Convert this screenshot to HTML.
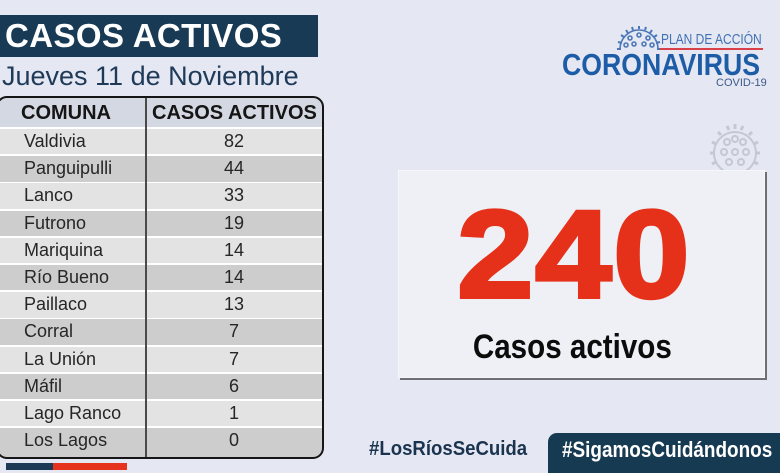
<!DOCTYPE html>
<html><head><meta charset="utf-8">
<style>
*{margin:0;padding:0;box-sizing:border-box}
html,body{width:780px;height:470px;overflow:hidden;background:#e5e7f2;font-family:"Liberation Sans",sans-serif}
.abs{position:absolute}
#title{left:0;top:15px;width:318px;height:42px;background:#183a54}
#title span{position:absolute;left:5px;top:2px;color:#fff;font-weight:bold;font-size:33px;letter-spacing:0.4px;line-height:38px;white-space:nowrap}
#sub{left:2px;top:60px;color:#1e3a58;font-size:27px;line-height:32px;white-space:nowrap}
#tbl{left:-2px;top:97px;width:325px;height:361px;overflow:hidden;border-radius:10px;background:#fff}
.row{position:absolute;left:0;width:325px;height:25.4px}
.row .c1{position:absolute;left:26px;top:0;line-height:25.4px;font-size:18px;color:#262626;white-space:nowrap}
.row .c2{position:absolute;left:147px;width:178px;text-align:center;top:0;line-height:25.4px;font-size:18px;color:#262626}
.odd{background:#e3e3e4}
.even{background:#cdcdce}
#hdr{position:absolute;left:0;top:0;width:325px;height:30px;background:#d4d8e2}
#hdr span{position:absolute;top:0;line-height:32px;font-weight:bold;font-size:20px;color:#151515;white-space:nowrap}
#div{left:145px;top:97px;width:2px;height:361px;background:#4a4a4a}
#tb{left:-4px;top:96px;width:328px;height:363px;border:2.5px solid #161616;border-radius:11px}
#box{left:398px;top:170px;width:367px;height:208px;background:#eef0f6;border:1px solid #f6f7fb;box-shadow:2px 2px 0 #6e6e74}
#big{left:391px;top:190px;width:367px;text-align:center;color:#e6311a;font-weight:bold;font-size:124px;line-height:130px;-webkit-text-stroke:4px #e6311a;letter-spacing:2px}
#big span{display:inline-block;transform:scaleX(1.1)}
#ca{left:389px;top:327px;width:367px;text-align:center;color:#0c0c0c;font-weight:bold;font-size:34px;line-height:40px}
#ca span{display:inline-block;transform:scaleX(0.87)}
#h1{left:369px;top:436px;color:#1a3450;font-weight:bold;font-size:20px;line-height:26px;white-space:nowrap}
#h1 span{display:inline-block;transform:scaleX(0.93);transform-origin:left}
#h2 span{display:inline-block;transform:scaleX(0.86);transform-origin:left}
#tab{left:548px;top:433px;width:240px;height:40px;background:#173a53;border-radius:9px 0 0 0}
#h2{left:562px;top:437px;color:#fff;font-weight:bold;font-size:22px;line-height:26px;white-space:nowrap}
</style></head><body>
<div id="title" class="abs"><span>CASOS ACTIVOS</span></div>
<div id="sub" class="abs">Jueves 11 de Noviembre</div>

<div id="tbl" class="abs">
  <div id="hdr"><span style="left:23px">COMUNA</span><span style="left:154px">CASOS ACTIVOS</span></div>
  <div class="row odd" style="top:32px"><span class="c1">Valdivia</span><span class="c2">82</span></div>
  <div class="row even" style="top:59.2px"><span class="c1">Panguipulli</span><span class="c2">44</span></div>
  <div class="row odd" style="top:86.4px"><span class="c1">Lanco</span><span class="c2">33</span></div>
  <div class="row even" style="top:113.6px"><span class="c1">Futrono</span><span class="c2">19</span></div>
  <div class="row odd" style="top:140.8px"><span class="c1">Mariquina</span><span class="c2">14</span></div>
  <div class="row even" style="top:168px"><span class="c1">Río Bueno</span><span class="c2">14</span></div>
  <div class="row odd" style="top:195.2px"><span class="c1">Paillaco</span><span class="c2">13</span></div>
  <div class="row even" style="top:222.4px"><span class="c1">Corral</span><span class="c2">7</span></div>
  <div class="row odd" style="top:249.6px"><span class="c1">La Unión</span><span class="c2">7</span></div>
  <div class="row even" style="top:276.8px"><span class="c1">Máfil</span><span class="c2">6</span></div>
  <div class="row odd" style="top:304px"><span class="c1">Lago Ranco</span><span class="c2">1</span></div>
  <div class="row even" style="top:331.2px;height:30px"><span class="c1">Los Lagos</span><span class="c2">0</span></div>
</div>
<div id="div" class="abs"></div>
<div id="tb" class="abs"></div>

<div class="abs" style="left:6px;top:463px;width:47px;height:7px;background:#1c3a56"></div>
<div class="abs" style="left:53px;top:463px;width:74px;height:7px;background:#e5331d"></div>

<!-- Logo -->
<svg class="abs" style="left:616px;top:25px" width="46" height="26" viewBox="0 0 46 26">
  <g fill="none" stroke="#4a78b8" stroke-width="1.6">
    <path d="M4 24 A19 19 0 0 1 42 24"/>
    <circle cx="14" cy="13" r="2"/><circle cx="23" cy="10" r="2"/><circle cx="32" cy="13" r="2"/>
    <circle cx="10" cy="20" r="2"/><circle cx="18" cy="19" r="2"/><circle cx="28" cy="19" r="2"/><circle cx="36" cy="20" r="2"/>
  </g>
  <g stroke="#4a78b8" stroke-width="2">
    <line x1="1" y1="24" x2="5" y2="24"/><line x1="2" y1="17" x2="6" y2="18"/><line x1="5" y1="10" x2="8" y2="12"/>
    <line x1="10" y1="5" x2="12" y2="8"/><line x1="16" y1="2" x2="17" y2="5"/><line x1="23" y1="1" x2="23" y2="4"/>
    <line x1="30" y1="2" x2="29" y2="5"/><line x1="36" y1="5" x2="34" y2="8"/><line x1="41" y1="10" x2="38" y2="12"/>
    <line x1="44" y1="17" x2="40" y2="18"/><line x1="45" y1="24" x2="41" y2="24"/>
  </g>
</svg>
<div class="abs" style="left:661px;top:32px;color:#3f72b5;font-size:15px;line-height:16px;white-space:nowrap"><span style="display:inline-block;transform:scaleX(0.8);transform-origin:left">PLAN DE ACCIÓN</span></div>
<div class="abs" style="left:660px;top:48px;width:103px;height:2px;background:#d9414a"></div>
<div class="abs" style="left:562px;top:50px;color:#1d5ca6;font-weight:bold;font-size:31px;line-height:30px;white-space:nowrap"><span style="display:inline-block;transform:scaleX(0.86);transform-origin:left">CORONAVIRUS</span></div>
<div class="abs" style="left:716px;top:77px;color:#3a5c8a;font-size:11px;line-height:12px;white-space:nowrap">COVID-19</div>

<!-- faint virus -->
<svg class="abs" style="left:704px;top:120px" width="62" height="54" viewBox="0 0 62 54">
  <g fill="none" stroke="#c4c8d2" stroke-width="2">
    <circle cx="31" cy="33" r="21"/>
    <circle cx="23" cy="22" r="3"/><circle cx="31" cy="19" r="3"/><circle cx="39" cy="22" r="3"/>
    <circle cx="20" cy="32" r="3"/><circle cx="31" cy="32" r="3"/><circle cx="42" cy="32" r="3"/>
    <circle cx="25" cy="42" r="3"/><circle cx="37" cy="42" r="3"/>
  </g>
  <g stroke="#c4c8d2" stroke-width="3">
    <line x1="6" y1="33" x2="10" y2="33"/><line x1="8" y1="22" x2="12" y2="24"/><line x1="14" y1="12" x2="17" y2="15"/>
    <line x1="23" y1="6" x2="25" y2="10"/><line x1="31" y1="4" x2="31" y2="9"/><line x1="39" y1="6" x2="37" y2="10"/>
    <line x1="48" y1="12" x2="45" y2="15"/><line x1="54" y1="22" x2="50" y2="24"/><line x1="56" y1="33" x2="52" y2="33"/>
    <line x1="54" y1="44" x2="50" y2="42"/><line x1="8" y1="44" x2="12" y2="42"/>
  </g>
</svg>

<div id="box" class="abs"></div>
<div id="big" class="abs"><span>240</span></div>
<div id="ca" class="abs"><span>Casos activos</span></div>

<div id="h1" class="abs"><span>#LosRíosSeCuida</span></div>
<div id="tab" class="abs"></div>
<div id="h2" class="abs"><span>#SigamosCuidándonos</span></div>
</body></html>
